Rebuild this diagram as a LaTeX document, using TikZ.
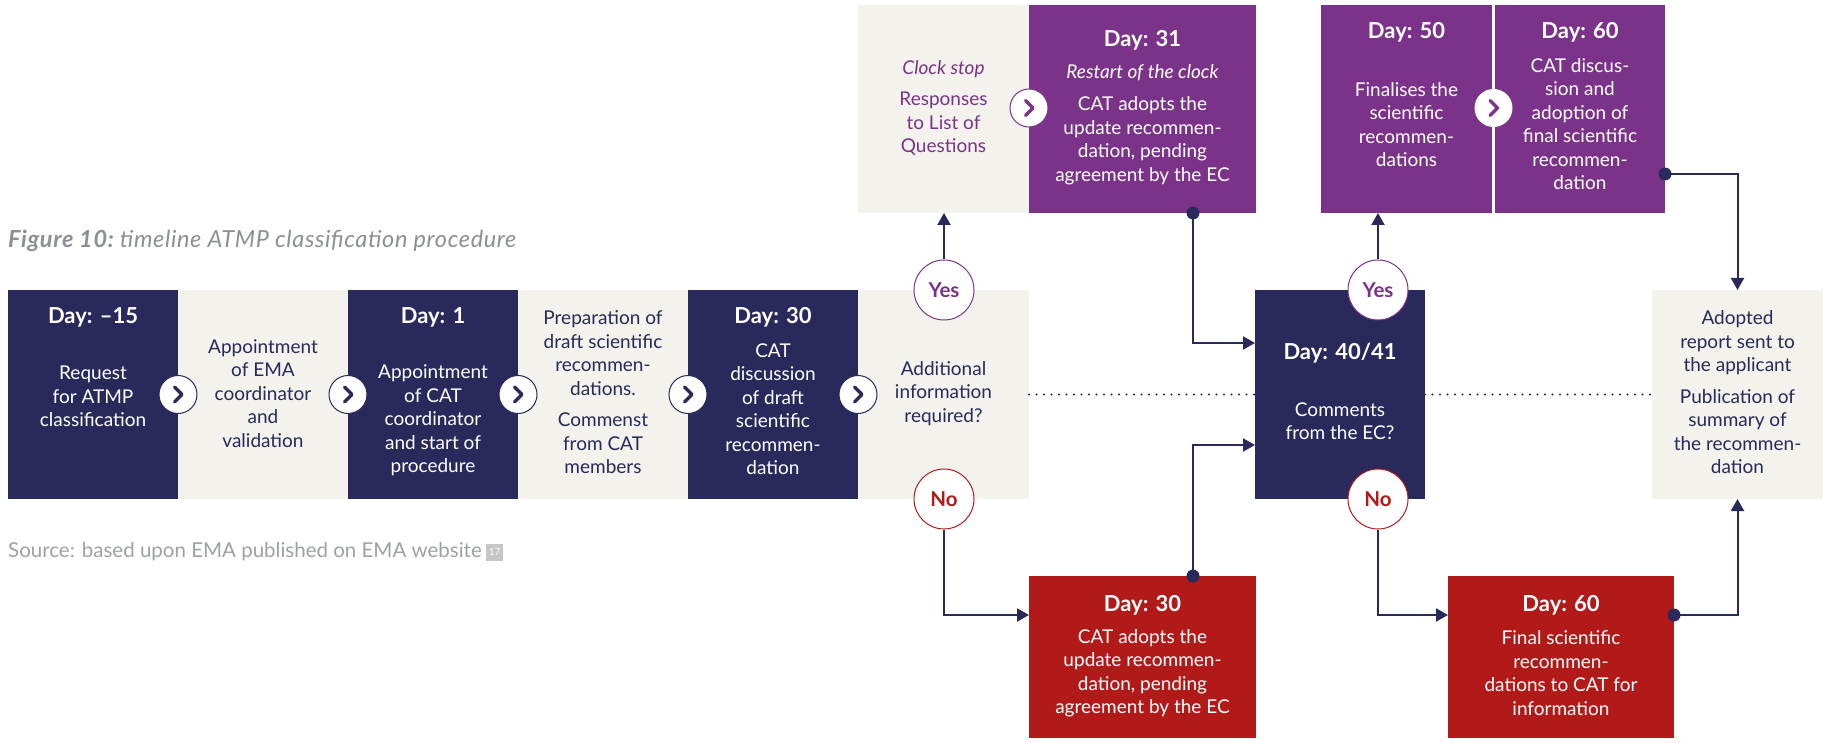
\documentclass[tikz,border=0pt]{standalone}
\usepackage{fontspec}
\setmainfont{Lato}
\usetikzlibrary{arrows.meta,calc}
\definecolor{navy}{HTML}{29295C}
\definecolor{cream}{HTML}{F3F2EC}
\definecolor{plum}{HTML}{7B3389}
\definecolor{brick}{HTML}{B21A19}
\definecolor{captiongrey}{HTML}{8C9095}
\definecolor{notegrey}{HTML}{C5C6C8}

\begin{document}
\begin{tikzpicture}[x=1pt,y=-1pt,
  panel/.style={rectangle, inner sep=0pt, outer sep=0pt, minimum width=170pt, minimum height=209pt},
  body/.style={align=center, inner sep=0pt, font=\fontsize{19}{23.5}\selectfont},
  head/.style={inner sep=0pt, font=\fontsize{22}{24}\selectfont\bfseries},
  link/.style={draw=navy, line width=2pt, -{Triangle[length=12pt,width=13pt]}},
  dotrow/.style={draw=navy, line width=2.2pt, line cap=round, dash pattern=on 0pt off 7.5pt},
  decide/.style={circle, minimum size=60pt, inner sep=0pt, fill=white, draw=#1, line width=1pt,
    text=#1, font=\fontsize{20.5}{20.5}\selectfont\bfseries},
  chev/.style={circle, minimum size=38pt, inner sep=0pt, fill=white, draw=#1, line width=1pt,
    path picture={\draw[#1, line width=3.5pt, line cap=round, line join=round]
      ([xshift=-3.5pt,yshift=7.5pt]path picture bounding box.center) --
      ([xshift=4pt]path picture bounding box.center) --
      ([xshift=-3.5pt,yshift=-7.5pt]path picture bounding box.center);}}
]
\useasboundingbox (0,0) rectangle (1824,743);
\fill[white] (0,0) rectangle (1824,743);

% main row of stages
\node[panel, fill=navy] (b1) at (93,394.5) {};
\node[panel, fill=cream] (b2) at (263,394.5) {};
\node[panel, fill=navy] (b3) at (433,394.5) {};
\node[panel, fill=cream] (b4) at (603,394.5) {};
\node[panel, fill=navy] (b5) at (773,394.5) {};
\node[panel, fill=cream, minimum width=171pt] (b6) at (943.5,394.5) {};
\node[panel, fill=navy] (ec) at (1340,394.5) {};
\node[panel, fill=cream, minimum width=171pt] (pub) at (1737.5,394.5) {};

% upper branch
\node[panel, fill=cream, minimum width=171pt, minimum height=208pt] (clk) at (943.5,109) {};
\node[panel, fill=plum, minimum width=227pt, minimum height=208pt] (d31) at (1142.5,109) {};
\node[panel, fill=plum, minimum width=171pt, minimum height=208pt] (d50) at (1406.5,109) {};
\node[panel, fill=plum, minimum width=170pt, minimum height=208pt] (d60) at (1580,109) {};

% lower branch
\node[panel, fill=brick, minimum width=227pt, minimum height=162pt] (r1) at (1142.5,657) {};
\node[panel, fill=brick, minimum width=226pt, minimum height=162pt] (r2) at (1561,657) {};

% dotted guide
\draw[dotrow] (b6.east) -- (ec.west);
\draw[dotrow] (ec.east) -- (pub.west);

% decision points
\node[decide=plum] (y1) at (944,290) {Yes};
\node[decide=brick] (n1) at (944,499) {No};
\node[decide=plum] (y2) at ($(ec.north)+(38,0)$) {Yes};
\node[decide=brick] (n2) at ($(ec.south)+(38,0)$) {No};

% connectors
\draw[link] (y1.north) -- (y1.north |- clk.south);
\draw[link] ($(d31.south)+(50.5,0)$) |- ($(ec.west)+(0,-51.5)$);
\fill[navy] ($(d31.south)+(50.5,0)$) circle[radius=6.5pt];
\draw[link] (n1.south) |- ($(r1.west)+(0,-42)$);
\draw[link] ($(r1.north)+(50.5,0)$) |- ($(ec.west)+(0,50.5)$);
\fill[navy] ($(r1.north)+(50.5,0)$) circle[radius=6.5pt];
\draw[link] (y2.north) -- (y2.north |- d50.south);
\draw[link] ($(d60.east)+(0,65)$) -| (pub.north);
\fill[navy] ($(d60.east)+(0,65)$) circle[radius=6.5pt];
\draw[link] (n2.south) |- ($(r2.west)+(0,-42)$);
\draw[link] ($(r2.east)+(0,-42)$) -| (pub.south);
\fill[navy] ($(r2.east)+(0,-42)$) circle[radius=6.5pt];

% step chevrons
\node[chev=navy] (c1) at (b1.east) {};
\node[chev=navy] (c2) at (b2.east) {};
\node[chev=navy] (c3) at (b3.east) {};
\node[chev=navy] (c4) at (b4.east) {};
\node[chev=navy] (c5) at (b5.east) {};
\node[chev=plum] (c6) at ($(clk.east)+(0,-1)$) {};
\node[chev=plum, draw=none] (c7) at ($(d50.east)!0.5!(d60.west)+(0,-1)$) {};

% texts: main row
\node[head, text=white] (t1) at (93,317) {Day: –15};
\node[body, text=white] (s1) at (93,396.5) {Request\\for ATMP\\classification};
\node[body, text=navy] (s2) at (263,393.5) {Appointment\\of EMA\\coordinator\\and\\validation};
\node[head, text=white] (t3) at (433,317) {Day: 1};
\node[body, text=white] (s3) at (433,420.5) {Appointment\\of CAT\\coordinator\\and start of\\procedure};
\node[body, text=navy] (s4) at (603,392.5) {Preparation of\\draft scientific\\recommen-\\dations.\\[8pt]Commenst\\from CAT\\members};
\node[head, text=white] (t5) at (773,317) {Day: 30};
\node[body, text=white] (s5) at (773,409) {CAT\\discussion\\of draft\\scientific\\recommen-\\dation};
\node[body, text=navy] (s6) at (943.5,393.5) {Additional\\information\\required?};
\node[head, text=white] (t7) at (1340,353) {Day: 40/41};
\node[body, text=white] (s7) at (1340,421) {Comments\\from the EC?};
\node[body, text=navy] (s8) at (1737.5,392.5) {Adopted\\report sent to\\the applicant\\[8pt]Publication of\\summary of\\the recommen-\\dation};

% texts: upper branch
\node[body, text=plum] (s9) at (943.5,108) {\textit{Clock stop}\\[8pt]Responses\\to List of\\Questions};
\node[head, text=white] (t10) at (1142.5,40) {Day: 31};
\node[body, text=white] (s10) at (1142.5,124.5) {\textit{Restart of the clock}\\[9pt]CAT adopts the\\update recommen-\\dation, pending\\agreement by the EC};
\node[head, text=white] (t11) at (1406.5,32) {Day: 50};
\node[body, text=white] (s11) at (1406.5,124.5) {Finalises the\\scientific\\recommen-\\dations};
\node[head, text=white] (t12) at (1580,32) {Day: 60};
\node[body, text=white] (s12) at (1580,124) {CAT discus-\\sion and\\adoption of\\final scientific\\recommen-\\dation};

% texts: lower branch
\node[head, text=white] (t13) at (1142.5,605) {Day: 30};
\node[body, text=white] (s13) at (1142.5,673) {CAT adopts the\\update recommen-\\dation, pending\\agreement by the EC};
\node[head, text=white] (t14) at (1561,605) {Day: 60};
\node[body, text=white] (s14) at (1561,673) {Final scientific\\recommen-\\dations to CAT for\\information};

% caption and source
\node[anchor=west, inner sep=0pt, text=captiongrey, font=\fontsize{23.5}{26}\selectfont\itshape\addfontfeatures{LetterSpace=2.7}] (title) at (8,241)
  {\bfseries Figure 10:\mdseries\ timeline ATMP classification procedure};
\node[anchor=west, inner sep=0pt, text=captiongrey!85!white, font=\fontsize{20.5}{24}\selectfont] (src) at (8,552)
  {Source: based upon EMA published on EMA website};
\node[anchor=west, inner sep=0pt, fill=notegrey, text=white, minimum size=17pt, font=\fontsize{10}{10}\selectfont] (ref)
  at ($(src.east)+(4,0)$) {17};
\end{tikzpicture}
\end{document}
